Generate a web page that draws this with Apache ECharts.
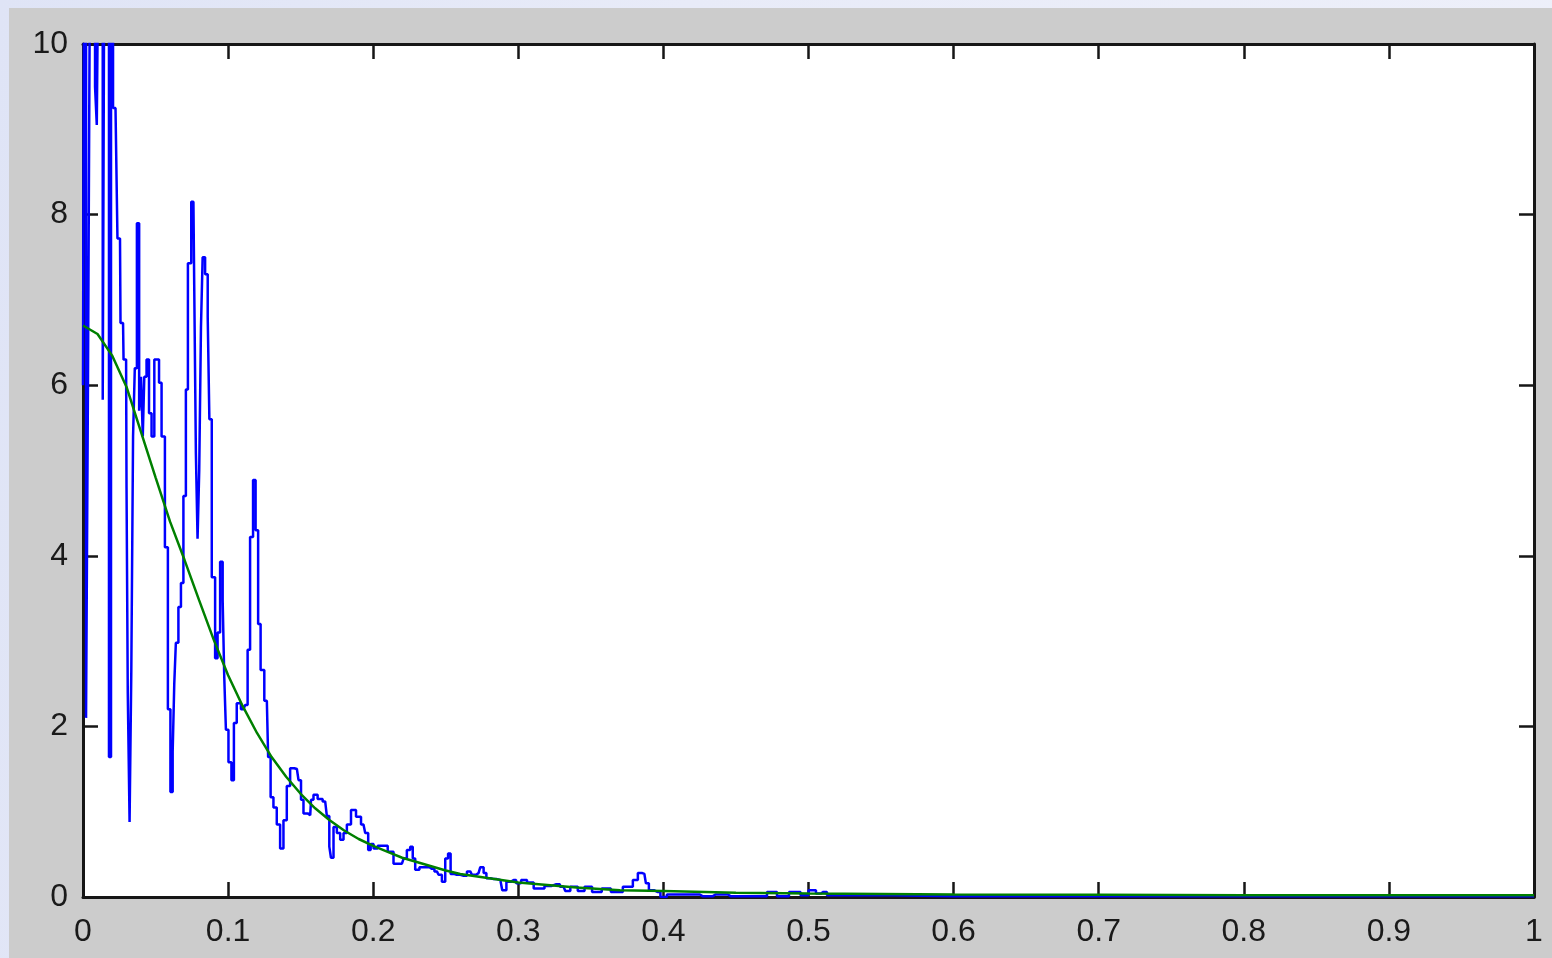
<!DOCTYPE html>
<html>
<head>
<meta charset="utf-8">
<title>Spectrum</title>
<script src="https://cdn.jsdelivr.net/npm/echarts@6/dist/echarts.min.js"></script>
<style>
  html, body { margin: 0; padding: 0; width: 1552px; height: 958px; overflow: hidden; }
  body { background: linear-gradient(100deg, #dfe4f6 0%, #e8ebf8 40%, #eef0fa 100%); }
  #panel { position: absolute; left: 9px; top: 8px; right: 0; bottom: 0; background: #cccccc; }
  #chart { position: absolute; left: 0; top: 0; width: 1552px; height: 958px; }
</style>
</head>
<body>
<div id="panel"></div>
<div id="chart"></div>
<script>
// Measured signal (blue): frequency positions and magnitudes
const blueX = [
  0, 0.0014, 0.0028, 0.0041, 0.0055, 0.0076, 0.009, 0.01, 0.011, 0.0131,
  0.0141, 0.0152, 0.0172, 0.0186, 0.02, 0.0214, 0.0234, 0.0241, 0.0255, 0.0262,
  0.0276, 0.0283, 0.0297, 0.0303, 0.0314, 0.0328, 0.0338, 0.0352, 0.0362, 0.0381,
  0.0393, 0.0407, 0.0417, 0.0428, 0.0448, 0.0462, 0.0483, 0.05, 0.0517, 0.0531,
  0.0552, 0.0577, 0.0593, 0.0612, 0.0624, 0.0634, 0.0646, 0.0669, 0.0681, 0.0703,
  0.0715, 0.0731, 0.0761, 0.0772, 0.0784, 0.0795, 0.0807, 0.0819, 0.083, 0.0853,
  0.0866, 0.0876, 0.0899, 0.0922, 0.0933, 0.0957, 0.0968, 0.0979, 0.0991, 0.1014,
  0.1032, 0.1048, 0.1071, 0.1106, 0.1129, 0.114, 0.1163, 0.1181, 0.1198, 0.1216,
  0.1232, 0.1267, 0.1285, 0.1301, 0.1324, 0.1347, 0.137, 0.1393, 0.1416, 0.1439,
  0.1474, 0.1497, 0.1508, 0.1531, 0.1566, 0.1577, 0.16, 0.1634, 0.1669, 0.1692,
  0.1703, 0.1715, 0.1738, 0.1761, 0.1784, 0.1807, 0.183, 0.1864, 0.1899, 0.1933,
  0.1957, 0.1974, 0.1991, 0.2014, 0.2048, 0.2083, 0.2117, 0.2163, 0.2198, 0.2221,
  0.2243, 0.2267, 0.2278, 0.2301, 0.2336, 0.237, 0.2405, 0.2439, 0.2462, 0.2485,
  0.2508, 0.2524, 0.2543, 0.2577, 0.2623, 0.2669, 0.2692, 0.2726, 0.275, 0.2772,
  0.2788, 0.283, 0.2876, 0.2903, 0.2933, 0.2968, 0.3002, 0.3037, 0.3083, 0.3129,
  0.3163, 0.3198, 0.3262, 0.3312, 0.3336, 0.3381, 0.3439, 0.3474, 0.3543, 0.3607,
  0.3669, 0.3772, 0.3807, 0.3841, 0.3869, 0.389, 0.391, 0.3959, 0.4, 0.4048,
  0.4234, 0.4269, 0.4324, 0.4359, 0.4428, 0.4462, 0.4669, 0.4759, 0.4807, 0.4924,
  0.4966, 0.5034, 0.5069, 0.5103, 0.5152, 0.6, 0.8, 1
];
const blueY = [
  6.0, 11, 2.1, 6.1, 11, 11, 9.5, 9.05, 11, 11,
  5.83, 11, 11, 1.64, 11, 9.25, 9.25, 7.72, 7.72, 6.73,
  6.73, 6.3, 6.3, 4.8, 2.4, 0.88, 2.66, 5.4, 6.2, 7.9,
  5.7, 6.1, 5.4, 6.1, 6.3, 5.67, 5.4, 6.3, 6.3, 6.03,
  5.4, 4.1, 2.2, 1.23, 1.7, 2.5, 2.98, 3.4, 3.68, 4.7,
  5.95, 7.43, 8.15, 7.17, 5.2, 4.2, 5.0, 6.68, 7.5, 7.3,
  6.8, 5.6, 3.75, 2.8, 3.1, 3.93, 3.48, 2.58, 1.96, 1.58,
  1.37, 2.04, 2.27, 2.2, 2.25, 2.9, 4.22, 4.89, 4.3, 3.2,
  2.66, 2.3, 1.64, 1.17, 1.05, 0.85, 0.57, 0.9, 1.3, 1.51,
  1.5, 1.37, 1.14, 0.98, 0.96, 1.14, 1.2, 1.15, 1.12, 0.95,
  0.59, 0.46, 0.82, 0.75, 0.67, 0.75, 0.85, 1.02, 0.94, 0.85,
  0.75, 0.55, 0.62, 0.57, 0.6, 0.6, 0.53, 0.39, 0.39, 0.45,
  0.55, 0.59, 0.45, 0.32, 0.35, 0.35, 0.33, 0.3, 0.26, 0.18,
  0.45, 0.51, 0.27, 0.26, 0.25, 0.3, 0.26, 0.28, 0.35, 0.28,
  0.22, 0.21, 0.2, 0.08, 0.18, 0.2, 0.16, 0.2, 0.17, 0.1,
  0.1, 0.13, 0.15, 0.12, 0.07, 0.12, 0.07, 0.12, 0.06, 0.1,
  0.06, 0.12, 0.2, 0.28, 0.27, 0.16, 0.08, 0.06, 0.0, 0.03,
  0.03, 0.01, 0.01, 0.03, 0.03, 0.01, 0.01, 0.06, 0.01, 0.06,
  0.02, 0.08, 0.04, 0.06, 0.02, 0.01, 0.01, 0.01
];

// Fitted envelope (green)
const greenX = [
  0, 0.01, 0.02, 0.03, 0.04, 0.05, 0.06, 0.07, 0.08, 0.09,
  0.1, 0.11, 0.12, 0.13, 0.14, 0.15, 0.16, 0.17, 0.18, 0.19,
  0.2, 0.21, 0.22, 0.23, 0.24, 0.25, 0.26, 0.28, 0.3, 0.32,
  0.34, 0.37, 0.4, 0.45, 0.5, 0.6, 0.7, 0.8, 0.9, 1
];
const greenY = [
  6.7, 6.6, 6.35, 5.98, 5.45, 4.92, 4.4, 3.95, 3.48, 3.02,
  2.6, 2.24, 1.92, 1.64, 1.41, 1.21, 1.04, 0.9, 0.78, 0.68,
  0.6, 0.53, 0.46, 0.41, 0.36, 0.31, 0.27, 0.22, 0.17, 0.14,
  0.11, 0.08, 0.07, 0.05, 0.04, 0.03, 0.025, 0.02, 0.02, 0.02
];

const pairs = (xs, ys) => xs.map((x, i) => [x, ys[i]]);

const labelFont = {
  fontFamily: 'Liberation Sans, Arial, sans-serif',
  fontSize: 32,
  color: '#1a1a1a'
};
const frameLine = { onZero: false, lineStyle: { color: '#161616', width: 3 } };
const tickStyle = { inside: true, length: 15, lineStyle: { color: '#161616', width: 2.5 } };

const chart = echarts.init(document.getElementById('chart'), null, { renderer: 'canvas' });
chart.setOption({
  animation: false,
  backgroundColor: 'transparent',
  grid: {
    left: 83, right: 18, top: 44, bottom: 61,
    show: true, backgroundColor: '#ffffff', borderWidth: 0
  },
  xAxis: [
    {
      type: 'value', position: 'bottom', min: 0, max: 1, interval: 0.1,
      axisLine: frameLine, axisTick: tickStyle, splitLine: { show: false },
      axisLabel: Object.assign({ margin: 19 }, labelFont)
    },
    {
      type: 'value', position: 'top', min: 0, max: 1, interval: 0.1,
      axisLine: frameLine, axisTick: tickStyle, splitLine: { show: false },
      axisLabel: { show: false }
    }
  ],
  yAxis: [
    {
      type: 'value', position: 'left', min: 0, max: 10, interval: 2,
      axisLine: frameLine, axisTick: tickStyle, splitLine: { show: false },
      axisLabel: Object.assign({ margin: 15 }, labelFont)
    },
    {
      type: 'value', position: 'right', min: 0, max: 10, interval: 2,
      axisLine: frameLine, axisTick: tickStyle, splitLine: { show: false },
      axisLabel: { show: false }
    }
  ],
  series: [
    {
      type: 'line', xAxisIndex: 0, yAxisIndex: 0,
      data: pairs(blueX, blueY),
      step: 'middle',
      showSymbol: false, clip: true,
      lineStyle: { color: '#0000ff', width: 2.5 },
      z: 2
    },
    {
      type: 'line', xAxisIndex: 0, yAxisIndex: 0,
      data: pairs(greenX, greenY),
      showSymbol: false, clip: true,
      lineStyle: { color: '#008000', width: 2.5 },
      z: 3
    }
  ]
});
</script>
</body>
</html>
